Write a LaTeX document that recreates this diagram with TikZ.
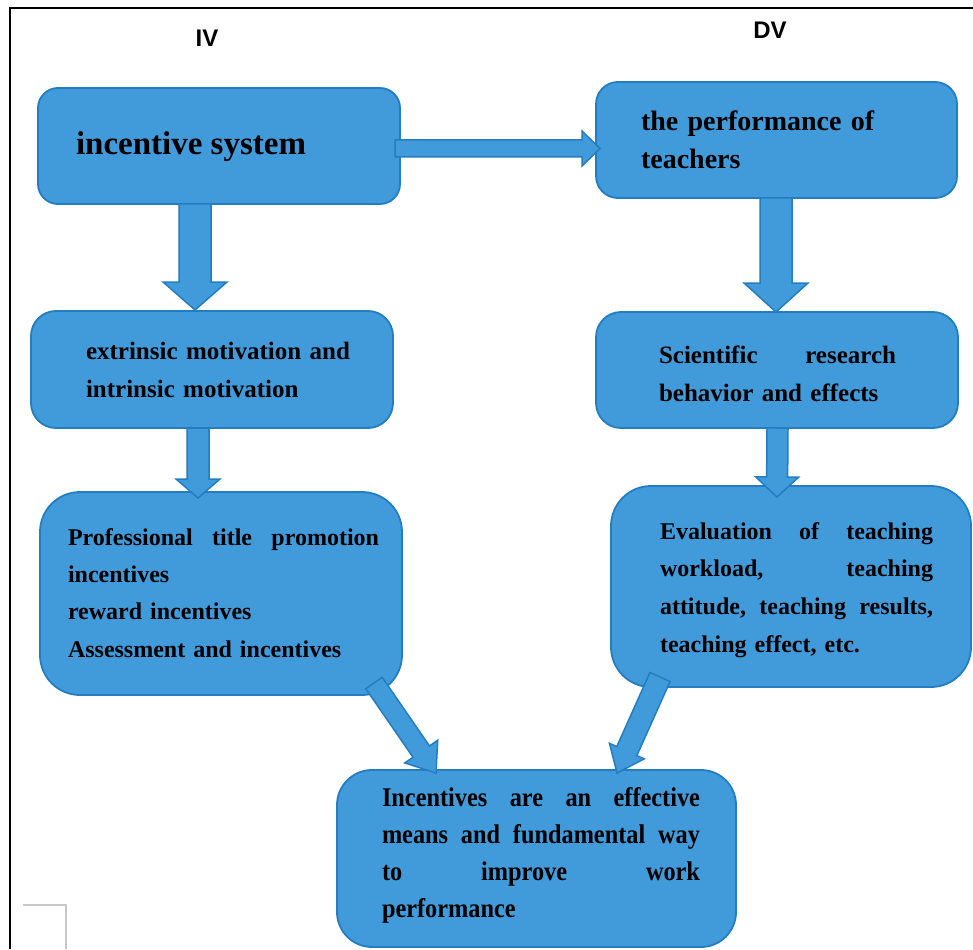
\documentclass[tikz,border=0pt]{standalone}
\usepackage{fontspec}
\setmainfont{Liberation Serif}
\newfontfamily\labelfont{Liberation Sans}
\newfontfamily\narrowfont[FakeStretch=0.9]{Liberation Serif}
\usetikzlibrary{calc}
\definecolor{boxfill}{RGB}{65,155,218}
\definecolor{boxline}{RGB}{35,125,195}
\definecolor{markgray}{RGB}{200,200,200}
\tikzset{
  box/.style={draw=boxline, fill=boxfill, line width=1.8pt, inner sep=0pt, outer sep=0pt},
  barrow/.style={draw=boxline, fill=boxfill, line width=1.5pt, line join=miter},
  txt/.style={anchor=base west, inner sep=0pt, outer sep=0pt, align=left, font=\bfseries},
  hdr/.style={inner sep=0pt, font=\labelfont\bfseries\fontsize{24}{28}\selectfont}
}
% #1 start, #2 tip, #3 half shaft width, #4 half head width, #5 head length
\newcommand\blockarrow[5]{%
  \coordinate (#1n) at ($(#2)!#5!(#1)$);
  \draw[barrow] ($(#1)!#3!90:(#2)$) -- ($(#1n)!#3!90:(#2)$) -- ($(#1n)!#4!90:(#2)$)
    -- (#2) -- ($(#1n)!#4!-90:(#2)$) -- ($(#1n)!#3!-90:(#2)$) -- ($(#1)!#3!-90:(#2)$) -- cycle;}
\newcommand\jl[1]{\leavevmode\hbox to \hsize{#1}}
\newcommand\gap{\hfill}
\begin{document}
\begin{tikzpicture}[x=1pt,y=-1pt]
\useasboundingbox (0,0) rectangle (973,949);
% frame
\draw[line width=2pt] (10,949) -- (10,8) -- (973,8);
\draw[markgray, line width=1.3pt] (23,905) -- (66,905) -- (66,949);
% headers
\node[hdr] (iv) at (207,38) {IV};
\node[hdr] (dv) at (770,30) {DV};
% boxes
\node[box, minimum width=362pt, minimum height=116pt, rounded corners=20pt] (b1) at (219,146) {};
\node[box, minimum width=361pt, minimum height=116pt, rounded corners=22pt] (b2) at (776.5,140) {};
\node[box, minimum width=362pt, minimum height=117pt, rounded corners=25pt] (b3) at (212,369.5) {};
\node[box, minimum width=362pt, minimum height=116pt, rounded corners=25pt] (b4) at (777,370) {};
\node[box, minimum width=362pt, minimum height=203pt, rounded corners=40pt] (b5) at (221,593.5) {};
\node[box, minimum width=360pt, minimum height=201pt, rounded corners=40pt] (b6) at (791,586.5) {};
\node[box, minimum width=399pt, minimum height=177pt, rounded corners=35pt] (b7) at (536.5,858.5) {};
% texts
\node[txt, font=\bfseries\fontsize{33}{38}\selectfont] (t1) at (76,155) {incentive system};
\node[txt, text width=240pt, font=\bfseries\fontsize{28}{38}\selectfont] (t2) at (641,131) {the performance of\\teachers};
\node[txt, text width=264pt, font=\bfseries\fontsize{25}{38}\selectfont] (t3) at (86,359) {\jl{extrinsic\gap motivation\gap and}\\intrinsic motivation};
\node[txt, text width=237pt, font=\bfseries\fontsize{25}{38}\selectfont] (t4) at (659,363) {\jl{Scientific\gap research}\\behavior and effects};
\node[txt, text width=311pt, font=\bfseries\fontsize{24}{37.4}\selectfont] (t5) at (68,545) {\jl{Professional\gap title\gap promotion}\\incentives\\reward incentives\\Assessment and incentives};
\node[txt, text width=273pt, font=\bfseries\fontsize{24}{37.7}\selectfont] (t6) at (660,539) {\jl{Evaluation\gap of\gap teaching}\\\jl{workload,\gap teaching}\\\jl{attitude,\gap teaching\gap results,}\\teaching effect, etc.};
\node[txt, text width=318pt, font=\narrowfont\bfseries\fontsize{27}{37.3}\selectfont] (t7) at (382,806) {\jl{Incentives\gap are\gap an\gap effective}\\\jl{means\gap and\gap fundamental\gap way}\\\jl{to\gap improve\gap work}\\performance};
% connector end points
\coordinate (a1s) at ($(b1.south)+(-24,0)$);
\coordinate (a1t) at ($(b3.north)+(-17,-1)$);
\coordinate (a2s) at ($(b1.east)+(-5,2.5)$);
\coordinate (a2t) at ($(b2.west)+(4,8.5)$);
\coordinate (a3s) at ($(b2.south)+(-0.5,0)$);
\coordinate (a3t) at ($(b4.north)+(-1,0)$);
\coordinate (a4s) at ($(b3.south)+(-14,0)$);
\coordinate (a4t) at ($(b5.north)+(-23,6)$);
\coordinate (a5s) at ($(b4.south)+(0.5,0)$);
\coordinate (a5t) at ($(b6.north)+(-14,11)$);
\coordinate (a6s) at ($(b5.south east)+(-28,-12)$);
\coordinate (a6t) at ($(b7.north)+(-100.5,3)$);
\coordinate (a7s) at ($(b6.south west)+(49,-10)$);
\coordinate (a7t) at ($(b7.north)+(80.5,3)$);
% block arrows
\blockarrow{a1s}{a1t}{16pt}{32pt}{28pt}
\blockarrow{a2s}{a2t}{8.5pt}{17.5pt}{18pt}
\blockarrow{a3s}{a3t}{16pt}{32pt}{29pt}
\blockarrow{a4s}{a4t}{11pt}{22pt}{19pt}
\blockarrow{a5s}{a5t}{10.5pt}{21.5pt}{20pt}
\blockarrow{a6s}{a6t}{10pt}{20pt}{26pt}
\blockarrow{a7s}{a7t}{11pt}{19pt}{24pt}
\end{tikzpicture}
\end{document}
